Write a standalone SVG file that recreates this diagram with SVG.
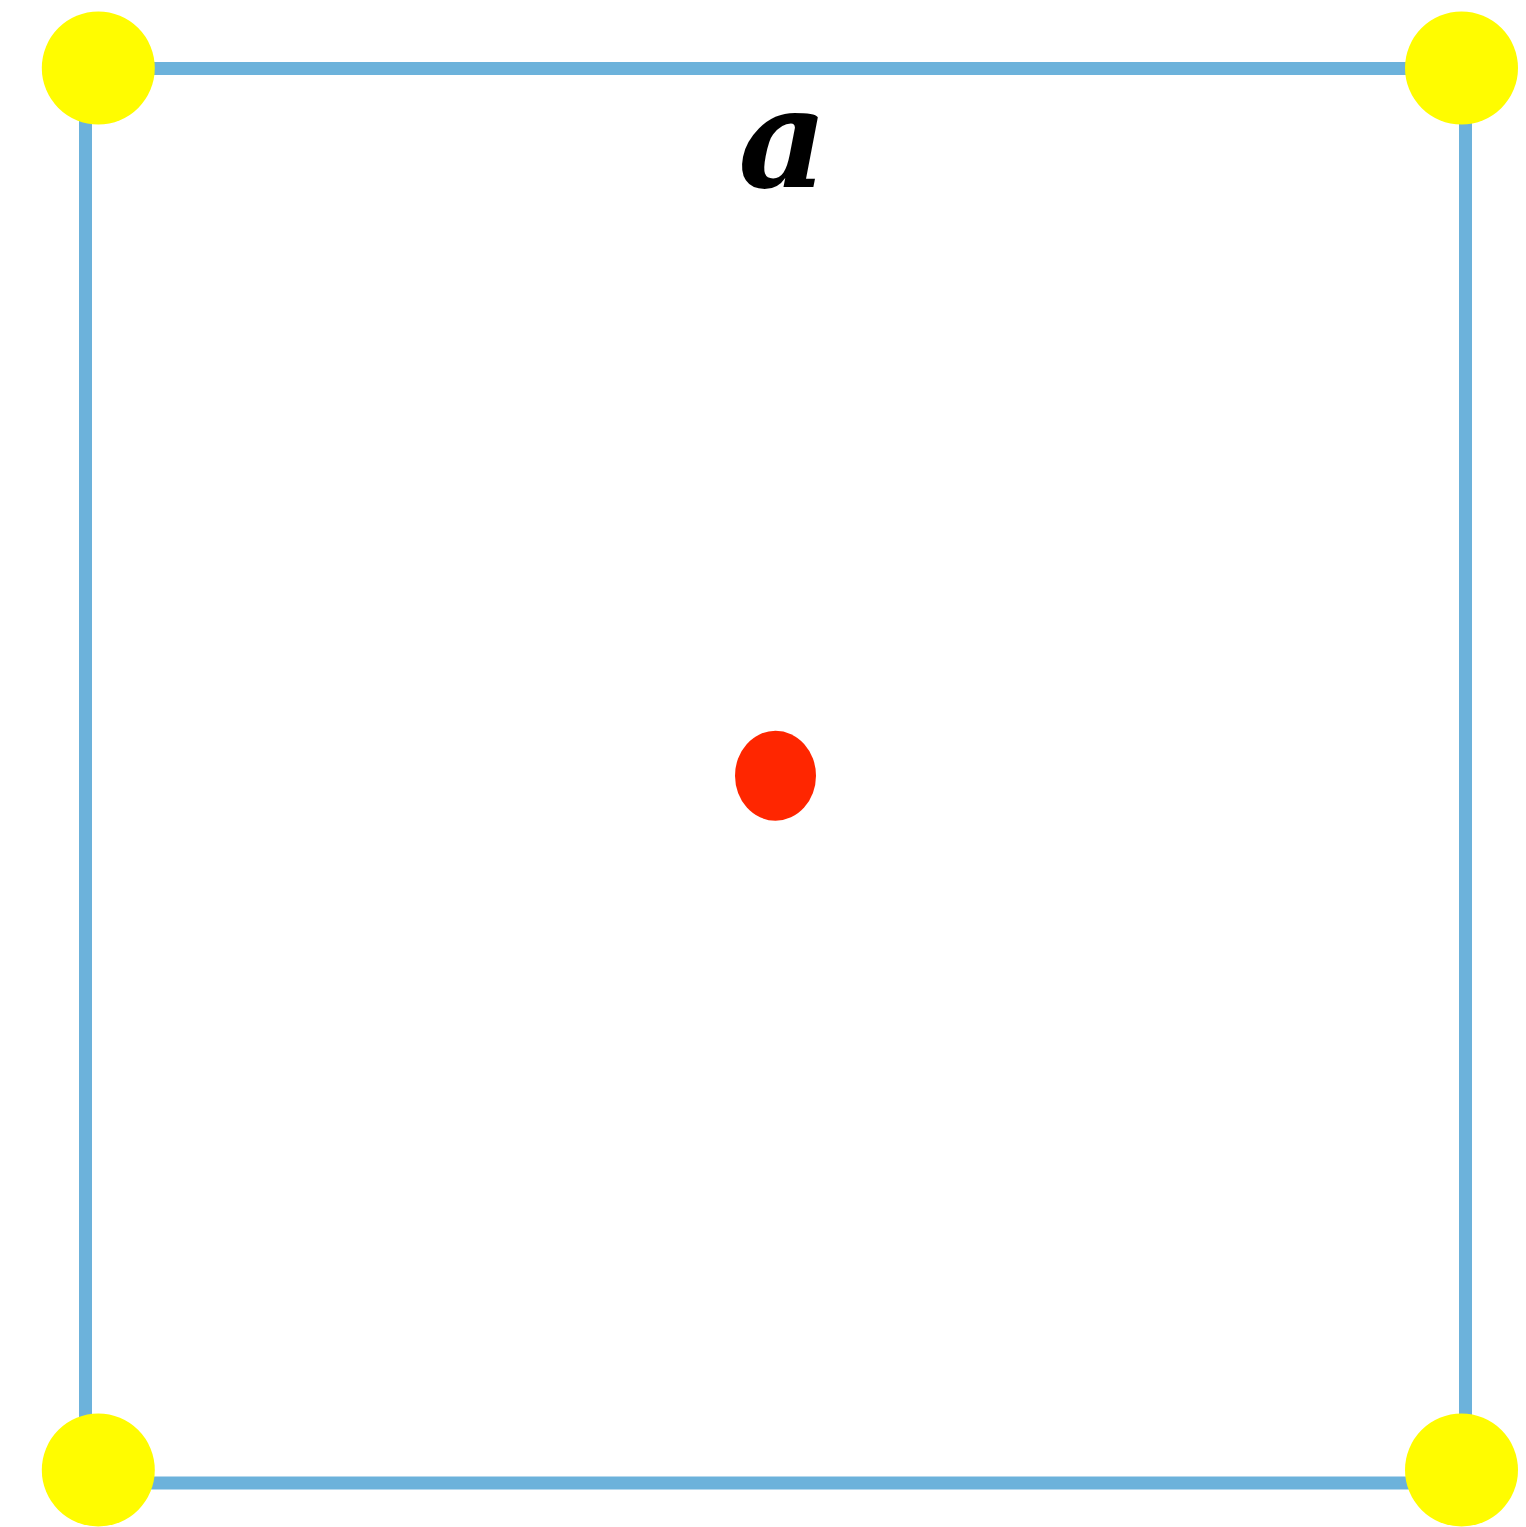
<svg xmlns="http://www.w3.org/2000/svg" width="1526" height="1527" viewBox="0 0 1526 1527">
<style>
.edge{stroke:#6CB2DB;stroke-width:13;fill:none}
.corner{fill:#FFFC00}
.label{font-family:"DejaVu Serif",serif;font-weight:bold;font-style:italic;font-size:138px;fill:#000}
</style>
<rect width="1526" height="1527" fill="#fff"/>
<g id="connectors">
<line class="edge" x1="98" y1="68.5" x2="1461" y2="68.5"/>
<line class="edge" x1="1465.5" y1="68" x2="1465.5" y2="1470"/>
<line class="edge" x1="98" y1="1483" x2="1461" y2="1483"/>
<line class="edge" x1="85.5" y1="68" x2="85.5" y2="1470"/>
</g>
<g id="corner-tl"><circle class="corner" cx="98.3" cy="68" r="56.5"/></g>
<g id="corner-tr"><circle class="corner" cx="1461.5" cy="68" r="56.5"/></g>
<g id="corner-bl"><circle class="corner" cx="98.3" cy="1470" r="56.5"/></g>
<g id="corner-br"><circle class="corner" cx="1461.5" cy="1470" r="56.5"/></g>
<g id="center"><ellipse cx="775.5" cy="775.7" rx="40.5" ry="45" fill="#FF2600"/></g>
<g id="label-a"><text class="label" x="783" y="187" text-anchor="middle">a</text></g>
</svg>
